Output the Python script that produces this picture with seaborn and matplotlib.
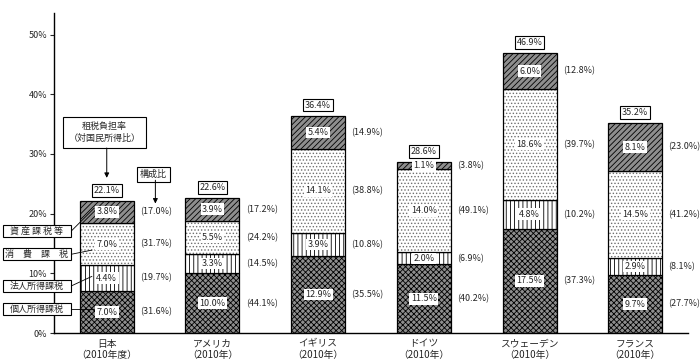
import numpy as np
import pandas as pd
import matplotlib
matplotlib.use("Agg")
import matplotlib.pyplot as plt
import seaborn as sns
from matplotlib.patches import Rectangle

# ---------------- data ----------------
countries = ["日本\n（2010年度）", "アメリカ\n（2010年）", "イギリス\n（2010年）",
             "ドイツ\n（2010年）", "スウェーデン\n（2010年）", "フランス\n（2010年）"]
personal = [7.0, 10.0, 12.9, 11.5, 17.5, 9.7]
corporate = [4.4, 3.3, 3.9, 2.0, 4.8, 2.9]
consumption = [7.0, 5.5, 14.1, 14.0, 18.6, 14.5]
asset = [3.8, 3.9, 5.4, 1.1, 6.0, 8.1]
totals = [22.1, 22.6, 36.4, 28.6, 46.9, 35.2]
share_personal = [31.6, 44.1, 35.5, 40.2, 37.3, 27.7]
share_corporate = [19.7, 14.5, 10.8, 6.9, 10.2, 8.1]
share_consumption = [31.7, 24.2, 38.8, 49.1, 39.7, 41.2]
share_asset = [17.0, 17.2, 14.9, 3.8, 12.8, 23.0]
category_names = ["個人所得課税", "法人所得課税", "消　費　課　税", "資 産 課 税 等"]
yticks = [0, 10, 20, 30, 40, 50]

# ---------------- style ----------------
sns.set_style("white")
plt.rcParams["font.family"] = ["Noto Sans CJK JP", "DejaVu Sans"]
plt.rcParams["hatch.linewidth"] = 0.6

fig = plt.figure(figsize=(7.0, 3.64), dpi=100)
ax = fig.add_axes([0.077, 0.085, 0.906, 0.879])

df = pd.DataFrame({"country": countries, "personal": personal, "corporate": corporate,
                   "consumption": consumption, "asset": asset})
b1 = np.zeros(len(countries))
b2 = b1 + np.array(personal)
b3 = b2 + np.array(corporate)
b4 = b3 + np.array(consumption)
W = 0.51

sns.barplot(data=df, x="country", y="personal", bottom=b1, width=W, ax=ax,
            color="#8e8e8e", edgecolor="black", linewidth=0.9, hatch="xxxxxx",
            saturation=1, errorbar=None)
sns.barplot(data=df, x="country", y="corporate", bottom=b2, width=W, ax=ax,
            color="white", edgecolor="black", linewidth=0.9, hatch="||||",
            saturation=1, errorbar=None)
sns.barplot(data=df, x="country", y="consumption", bottom=b3, width=W, ax=ax,
            color="white", edgecolor="#707070", linewidth=0, hatch=".....",
            saturation=1, errorbar=None)
sns.barplot(data=df, x="country", y="consumption", bottom=b3, width=W, ax=ax,
            color="none", edgecolor="black", linewidth=0.9, fill=False,
            saturation=1, errorbar=None)
sns.barplot(data=df, x="country", y="asset", bottom=b4, width=W, ax=ax,
            color="#8e8e8e", edgecolor="black", linewidth=0.9, hatch="//////",
            saturation=1, errorbar=None)

fs = 6.5
seg_box = dict(boxstyle="square,pad=0.15", fc="white", ec="none")
for i in range(len(countries)):
    segs = [(b1[i], personal[i], share_personal[i]),
            (b2[i], corporate[i], share_corporate[i]),
            (b3[i], consumption[i], share_consumption[i]),
            (b4[i], asset[i], share_asset[i])]
    for bot, h, sh in segs:
        yc = bot + h / 2
        ax.text(i, yc, f"{h:.1f}%", ha="center", va="center", fontsize=fs,
                bbox=seg_box, zorder=5)
        ax.text(i + W / 2 + 0.06, yc, f"({sh:.1f}%)", ha="left", va="center",
                fontsize=fs)
    ax.text(i, totals[i] + 1.8, f"{totals[i]:.1f}%", ha="center", va="center",
            fontsize=fs, zorder=5,
            bbox=dict(boxstyle="square,pad=0.2", fc="white", ec="black", lw=0.8))

# left category labels with leader lines
label_y = [4.0, 7.9, 13.2, 17.1]
leader_end = [(-0.12, 4.0), (-0.14, 9.5), (-0.14, 13.9), (-0.12, 20.9)]
for name, ly, (ex, ey) in zip(category_names, label_y, leader_end):
    ax.add_patch(Rectangle((-0.985, ly - 1.0), 0.65, 2.0, fc="white", ec="black",
                           lw=0.8, clip_on=False, zorder=6))
    ax.text(-0.66, ly, name, ha="center", va="center", fontsize=fs, zorder=7,
            clip_on=False)
    ax.plot([-0.335, ex], [ly, ey], color="black", lw=0.6, clip_on=False, zorder=6)

# 租税負担率 box and arrow
ax.text(-0.02, 33.6, "租税負担率\n（対国民所得比）", ha="center", va="center",
        fontsize=fs, linespacing=1.4,
        bbox=dict(boxstyle="square,pad=0.6", fc="white", ec="black", lw=0.8))
ax.annotate("", xy=(0.0, 26.0), xytext=(0.0, 31.0),
            arrowprops=dict(arrowstyle="-|>", color="black", lw=0.7,
                            mutation_scale=7, shrinkA=0, shrinkB=0))
# 構成比 box and arrow
ax.text(0.44, 26.6, "構成比", ha="center", va="center", fontsize=fs,
        bbox=dict(boxstyle="square,pad=0.35", fc="white", ec="black", lw=0.8))
ax.annotate("", xy=(0.46, 21.7), xytext=(0.46, 25.6),
            arrowprops=dict(arrowstyle="-|>", color="black", lw=0.7,
                            mutation_scale=7, shrinkA=0, shrinkB=0))

ax.set_xlim(-0.5, 5.5)
ax.set_ylim(0, 53.6)
ax.set_yticks(yticks)
ax.set_yticklabels([f"{t}%" for t in yticks], fontsize=fs)
ax.tick_params(axis="y", length=3, width=0.8, direction="out", left=True, pad=2)
ax.tick_params(axis="x", length=0, labelsize=7, pad=4)
ax.set_xlabel("")
ax.set_ylabel("")
for s in ["top", "right"]:
    ax.spines[s].set_visible(False)
for s in ["left", "bottom"]:
    ax.spines[s].set_color("black")
    ax.spines[s].set_linewidth(1.0)

fig.savefig("out.png", dpi=100)
